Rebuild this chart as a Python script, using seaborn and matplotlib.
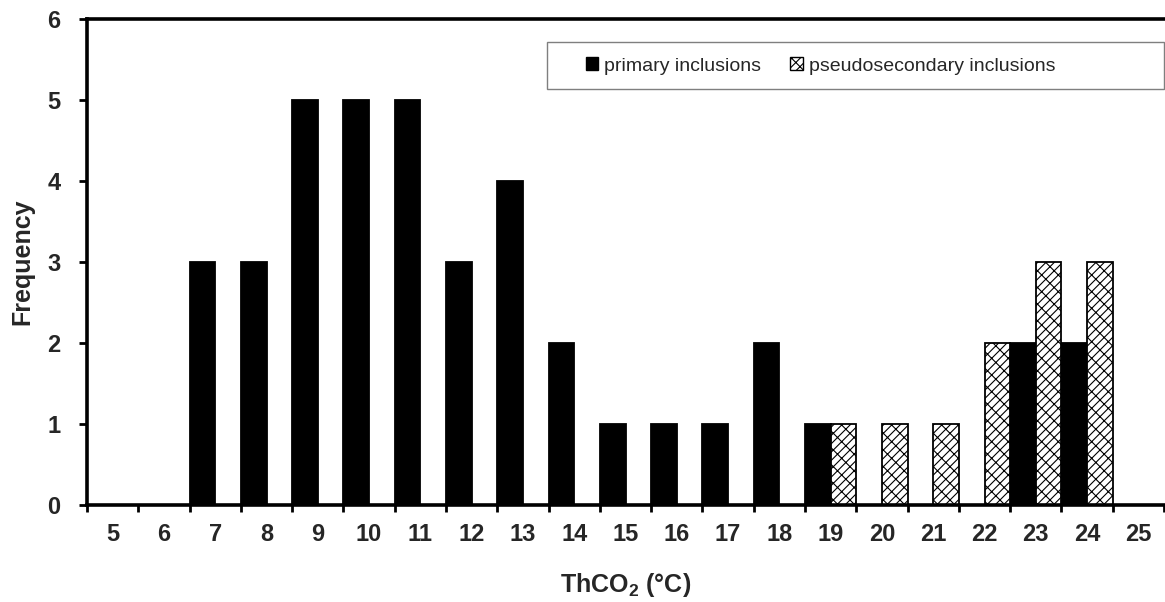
import numpy as np
import pandas as pd
import matplotlib
matplotlib.use("Agg")
import matplotlib.pyplot as plt
from matplotlib.patches import Patch, Rectangle
import seaborn as sns

# data
temps = [5, 6, 7, 8, 9, 10, 11, 12, 13, 14, 15, 16, 17, 18, 19, 20, 21, 22, 23, 24, 25]
primary = [0, 0, 3, 3, 5, 5, 5, 3, 4, 2, 1, 1, 1, 2, 1, 0, 0, 0, 2, 2, 0]
pseudosecondary = [0, 0, 0, 0, 0, 0, 0, 0, 0, 0, 0, 0, 0, 0, 1, 1, 1, 2, 3, 3, 0]
series_names = ["primary inclusions", "pseudosecondary inclusions"]
y_ticks = [0, 1, 2, 3, 4, 5, 6]

sns.set_style("white")
plt.rcParams['font.family'] = ['Liberation Sans', 'DejaVu Sans']
plt.rcParams['mathtext.fontset'] = 'custom'
plt.rcParams['mathtext.bf'] = 'Liberation Sans:bold'
plt.rcParams['mathtext.rm'] = 'Liberation Sans:bold'
plt.rcParams['hatch.linewidth'] = 0.8

df = pd.DataFrame({
    'temp': [str(t) for t in temps] * 2,
    'type': [series_names[0]] * len(temps) + [series_names[1]] * len(temps),
    'freq': primary + pseudosecondary,
})

fig = plt.figure(figsize=(11.65, 6.02), dpi=100)
ax = fig.add_axes([87 / 1165, 1 - 505 / 602, (1164 - 87) / 1165, (505 - 19) / 602])

sns.barplot(data=df, x='temp', y='freq', hue='type',
            order=[str(t) for t in temps], hue_order=series_names,
            palette=['black', 'white'], width=1.0, gap=0,
            edgecolor='black', linewidth=1.3, legend=False, ax=ax)

hatch = '////\\\\'
for bar in ax.containers[1]:
    bar.set_hatch(hatch)

ax.set_xlim(-0.5, len(temps) - 0.5)
ax.set_ylim(0, 6)
ax.set_yticks(y_ticks)
ax.set_yticklabels([str(v) for v in y_ticks])

# labels in the middle of each class, tick marks on the class borders
ax.set_xticks(range(len(temps)))
ax.set_xticklabels([str(t) for t in temps])
ax.set_xticks(np.arange(-0.5, len(temps), 1), minor=True)
ax.tick_params(axis='x', which='major', length=0, pad=13, labelsize=17)
ax.tick_params(axis='x', which='minor', bottom=True, length=5, width=2, color='black')
ax.tick_params(axis='y', left=True, length=6, width=2, color='black', pad=13, labelsize=17)
for lab in ax.get_xticklabels() + ax.get_yticklabels():
    lab.set_fontweight('bold')

for side in ['left', 'bottom', 'top']:
    ax.spines[side].set_visible(True)
    ax.spines[side].set_color('black')
    ax.spines[side].set_linewidth(2.6)
ax.spines['right'].set_visible(False)

ax.set_xlabel(r'ThCO$_{\mathbf{2}}$ (°C)', fontsize=18, fontweight='bold', labelpad=18)
ax.set_ylabel('Frequency', fontsize=18, fontweight='bold', labelpad=9)

# legend with its own grey frame
fig.patches.append(Rectangle((547 / 1165, 1 - 89 / 602), (1164 - 547) / 1165, 47 / 602,
                             transform=fig.transFigure, facecolor='white',
                             edgecolor='#7f7f7f', linewidth=1.0, zorder=3))
handles = [Patch(facecolor='black', edgecolor='black'),
           Patch(facecolor='white', edgecolor='black', hatch=hatch)]
fig.legend(handles, series_names, loc='center left',
           bbox_to_anchor=(568 / 1165, 1 - 66 / 602), ncol=2, frameon=False,
           fontsize=14, handlelength=0.65, handleheight=0.65,
           handletextpad=0.3, columnspacing=1.5)

fig.savefig('out.png', dpi=100)
